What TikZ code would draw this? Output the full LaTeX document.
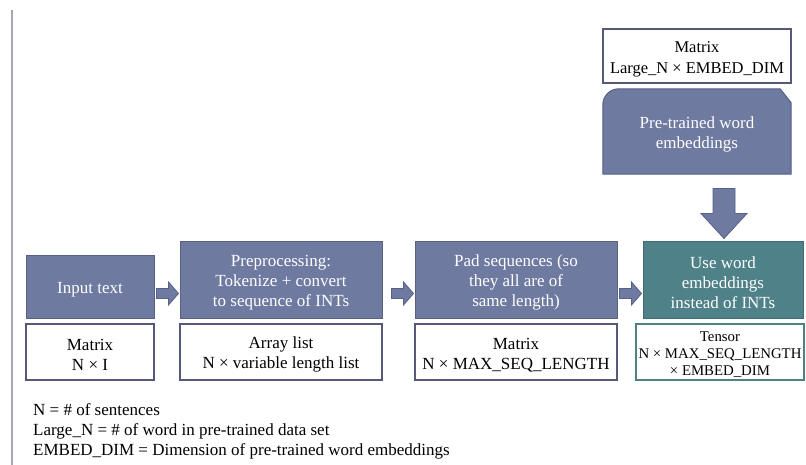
\documentclass[tikz,border=0pt]{standalone}
\usepackage{fontspec}
\setmainfont{Liberation Serif}
\usetikzlibrary{calc,backgrounds}

\definecolor{slate}{RGB}{111,122,160}
\definecolor{slateline}{RGB}{86,96,136}
\definecolor{embteal}{RGB}{79,129,137}
\definecolor{embtealline}{RGB}{62,108,116}
\definecolor{infoline}{RGB}{84,90,120}
\definecolor{rulegray}{RGB}{165,168,176}

% tall strut for the first line of a box: sets the text a little lower
\newcommand{\liftstrut}[1][17pt]{\rule{0pt}{#1}}

\begin{document}
\begin{tikzpicture}[x=1pt,y=-1pt,
  txt/.style={font=\fontsize{17}{20}\selectfont},
  stage/.style={txt, draw=slateline, line width=1pt, fill=slate,
    text=white, align=center, inner sep=0pt},
  tealstage/.style={stage, draw=embtealline, fill=embteal},
  info/.style={txt, draw=infoline, line width=1.3pt, fill=white,
    text=black, align=center, inner sep=0pt},
  blockarrow/.style={fill=slate, draw=slateline, line width=0.8pt, line join=miter},
]
\useasboundingbox (0,0) rectangle (806,465);

% margin rule on the left
\draw[rulegray, line width=2pt] (12,10) -- (12,465);

% pipeline stages
\node[stage, minimum width=128pt, minimum height=62pt] (in) at (90,287)
  {\liftstrut Input text};
\node[stage, minimum width=202pt, minimum height=76pt] (prep) at (281,280)
  {\liftstrut Preprocessing:\\Tokenize + convert\\to sequence of INTs};
\node[stage, minimum width=202pt, minimum height=76pt] (pad) at (516,280)
  {\liftstrut Pad sequences (so\\they all are of\\same length)};
\node[tealstage, minimum width=160pt, minimum height=76pt] (use) at (723,280)
  {\liftstrut Use word\\embeddings\\instead of INTs};

% data shapes under each stage
\node[info, minimum width=128pt, minimum height=56pt] (d1) at (90,352)
  {\liftstrut Matrix\\N × I};
\node[info, minimum width=202pt, minimum height=56pt] (d2) at (281,352)
  {\liftstrut Array list\\N × variable length list};
\node[info, minimum width=202pt, minimum height=56pt] (d3) at (516,352)
  {\liftstrut Matrix\\N × MAX\_SEQ\_LENGTH};
\node[info, draw=embteal, minimum width=168pt, minimum height=56pt,
  font=\fontsize{14.8}{17}\selectfont] (d4) at (720,352)
  {\liftstrut[14pt]Tensor\\N × MAX\_SEQ\_LENGTH\\× EMBED\_DIM};

% pre-trained embeddings and their shape
\node[info, minimum width=188pt, minimum height=54pt,
  font=\fontsize{16.5}{21}\selectfont] (dtop) at (697,56)
  {\liftstrut[18pt]Matrix\\Large\_N × EMBED\_DIM};
\node[txt, text=white, align=center, minimum width=188pt,
  minimum height=85pt, inner sep=0pt] (pre) at (697,131.5)
  {\liftstrut Pre-trained word\\embeddings};
\begin{scope}[on background layer]
  \draw[fill=slate, draw=slateline, line width=1pt]
    (pre.south west) [rounded corners=16pt] -- (pre.north west) [sharp corners]
    -- ($(pre.north east)+(-11,0)$) -- ($(pre.north east)+(0,14)$)
    -- (pre.south east) -- cycle;
\end{scope}

% block arrows between stages (tip at the target box)
\foreach \src/\dst in {in/prep, prep/pad, pad/use}{
  \draw[blockarrow, shift={($(\dst.west)+(-1,13.5)$)}]
    (-22,-5) -- (-10,-5) -- (-10,-11.5) -- (0,0) -- (-10,11.5) -- (-10,5)
    -- (-22,5) -- cycle;
}
\draw[blockarrow, shift={($(use.north)+(1,-3)$)}]
  (-11,-50) -- (11,-50) -- (11,-25) -- (23,-25) -- (0,0) -- (-23,-25)
  -- (-11,-25) -- cycle;

% legend
\node[txt, anchor=north west, align=left, inner sep=0pt] (legend) at (33,403)
  {N = \# of sentences\\
   Large\_N = \# of word in pre-trained data set\\
   EMBED\_DIM = Dimension of pre-trained word embeddings};
\end{tikzpicture}
\end{document}
